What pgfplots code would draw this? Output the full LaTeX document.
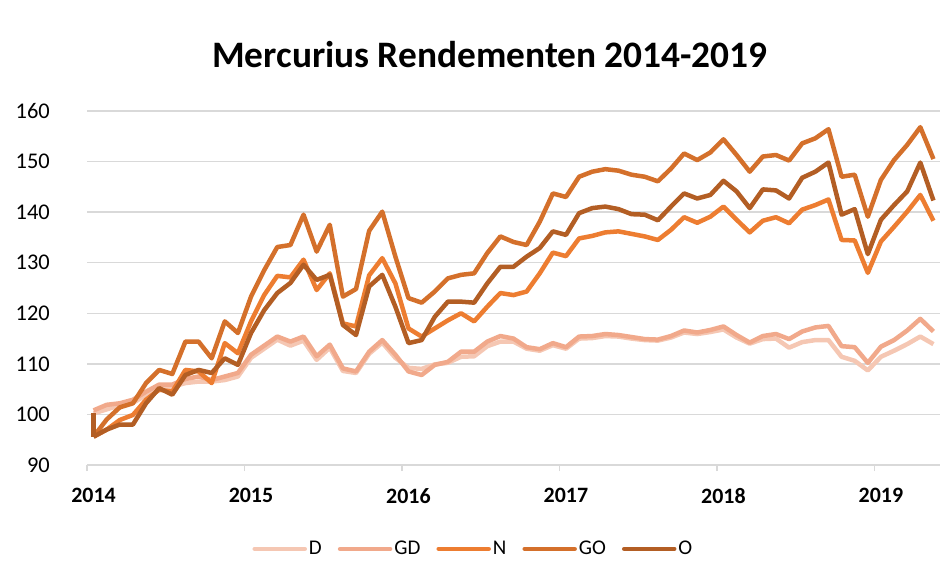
\documentclass[border=0pt]{standalone}
\usepackage{pgfplots}
\pgfplotsset{compat=1.18}
\usepackage{pgfplotstable}
\usepackage{fontspec}
\setmainfont{Carlito}
\definecolor{cD}{HTML}{F5C7B3}
\definecolor{cGD}{HTML}{F1A98B}
\definecolor{cN}{HTML}{ED7D31}
\definecolor{cGO}{HTML}{D4702B}
\definecolor{cO}{HTML}{B35E24}
\definecolor{gridc}{HTML}{D9D9D9}
\pgfplotstableread{
x D GD N GO O
0.5 100.2 100.8 95.6 95.6 95.6
1.5 101.0 101.9 97.0 99.0 97.0
2.5 101.8 102.2 98.9 101.4 98.0
3.5 102.3 102.9 99.9 102.2 98.0
4.5 103.8 104.5 102.9 106.2 102.2
5.5 104.8 105.9 104.9 108.8 105.2
6.5 105.5 105.9 104.5 108.0 103.9
7.5 106.2 107.0 108.8 114.4 107.8
8.5 106.5 107.5 108.5 114.4 108.8
9.5 106.5 106.8 106.2 111.1 108.2
10.5 106.8 107.5 114.1 118.4 111.1
11.5 107.5 108.2 112.1 116.1 109.8
12.5 111.2 111.8 118.4 123.3 116.1
13.5 113.0 113.6 123.6 128.5 120.6
14.5 114.8 115.4 127.4 133.1 124.0
15.5 113.6 114.4 127.1 133.5 126.0
16.5 114.6 115.4 130.6 139.5 129.6
17.5 110.8 111.5 124.6 132.2 126.6
18.5 113.2 113.8 127.9 137.5 127.6
19.5 108.6 109.1 118.0 123.3 117.7
20.5 108.2 108.5 117.4 124.8 115.7
21.5 112.0 112.4 127.5 136.3 125.3
22.5 114.2 114.7 130.9 140.1 127.6
23.5 111.2 111.8 125.9 131.2 121.3
24.5 109.2 108.5 117.0 123.0 114.1
25.5 109.0 107.8 115.4 122.1 114.7
26.5 109.9 109.8 117.0 124.3 119.3
27.5 110.2 110.4 118.6 126.9 122.3
28.5 111.4 112.4 120.0 127.6 122.3
29.5 111.5 112.4 118.4 127.9 122.1
30.5 113.5 114.4 121.3 131.9 125.9
31.5 114.4 115.5 124.0 135.2 129.2
32.5 114.4 115.0 123.6 134.1 129.2
33.5 113.0 113.3 124.3 133.5 131.2
34.5 112.6 112.9 127.9 138.1 132.9
35.5 113.7 114.1 132.0 143.7 136.2
36.5 113.0 113.3 131.3 143.0 135.5
37.5 115.0 115.4 134.8 147.0 139.8
38.5 115.1 115.5 135.3 148.0 140.8
39.5 115.5 115.9 136.0 148.5 141.1
40.5 115.4 115.7 136.2 148.2 140.6
41.5 115.0 115.3 135.7 147.4 139.6
42.5 114.7 114.9 135.2 147.0 139.5
43.5 114.6 114.8 134.5 146.1 138.4
44.5 115.2 115.5 136.5 148.6 141.1
45.5 116.2 116.6 139.0 151.6 143.7
46.5 115.9 116.2 137.9 150.3 142.7
47.5 116.3 116.7 139.1 151.8 143.4
48.5 116.8 117.4 141.1 154.4 146.2
49.5 115.2 115.7 138.5 151.3 144.1
50.5 114.0 114.2 136.0 148.0 140.8
51.5 114.9 115.5 138.3 151.0 144.5
52.5 115.0 115.9 139.0 151.3 144.3
53.5 113.2 114.9 137.8 150.2 142.7
54.5 114.3 116.4 140.5 153.6 146.8
55.5 114.7 117.2 141.4 154.6 148.0
56.5 114.7 117.5 142.5 156.4 149.8
57.5 111.4 113.5 134.5 147.0 139.5
58.5 110.6 113.3 134.4 147.4 140.6
59.5 108.7 110.2 128.0 139.1 131.7
60.5 111.4 113.4 134.2 146.4 138.5
61.5 112.6 114.7 137.1 150.3 141.4
62.5 113.9 116.6 140.1 153.3 144.1
63.5 115.4 118.9 143.4 156.8 149.8
64.5 113.9 116.4 138.3 150.5 142.3
}\data
\begin{document}
\begin{tikzpicture}
\path[use as bounding box] (0,0) rectangle (950bp,583bp);
\node[anchor=base, font=\fontsize{37.5}{42}\selectfont\bfseries] at (490bp,515bp) {Mercurius Rendementen 2014-2019};
\begin{axis}[
  at={(87bp,118bp)}, anchor=south west,
  width=853bp, height=354bp, scale only axis,
  xmin=0, xmax=65, ymin=90, ymax=160,
  ytick={90,100,...,160},
  xtick={0,12,24,36,48,60},
  xticklabels={2014,2015,2016,2017,2018,2019},
  axis lines*=left,
  y axis line style={draw=none},
  x axis line style={draw=gridc, line width=1.3bp, -},
  ymajorgrids,
  grid style={draw=gridc, line width=1.3bp},
  xtick align=outside,
  major tick length=6bp,
  xtick style={draw=gridc, line width=1.3bp},
  ytick style={draw=none},
  /pgf/number format/assume math mode=true,
  tick label style={font=\fontsize{22.5}{26}\selectfont, inner sep=0pt},
  yticklabel style={xshift=-37bp},
  xticklabel style={font=\fontsize{22}{26}\selectfont\bfseries, xshift=6.5bp, yshift=-17bp},
  legend style={at={(0.453,-0.237)}, anchor=center, draw=none, fill=none,
    legend columns=5, font=\fontsize{21}{24}\selectfont,
    /tikz/every even column/.append style={column sep=14bp},
    nodes={inner sep=2bp}},
  legend image code/.code={\draw[#1, line cap=round] (0bp,0bp) -- (50bp,0bp);},
  every axis plot/.append style={line width=4.5bp, line join=round},
  clip=false,
]
\addplot[cD] table[x=x,y=D] {\data};
\addlegendentry{D}
\addplot[cGD] table[x=x,y=GD] {\data};
\addlegendentry{GD}
\addplot[cN] table[x=x,y=N] {\data};
\addlegendentry{N}
\addplot[cGO] table[x=x,y=GO] {\data};
\addlegendentry{GO}
\addplot[cO, forget plot] coordinates {(0.5,100.2) (0.5,95.6)};
\addplot[cO] table[x=x,y=O] {\data};
\addlegendentry{O}
\end{axis}
\end{tikzpicture}
\end{document}
